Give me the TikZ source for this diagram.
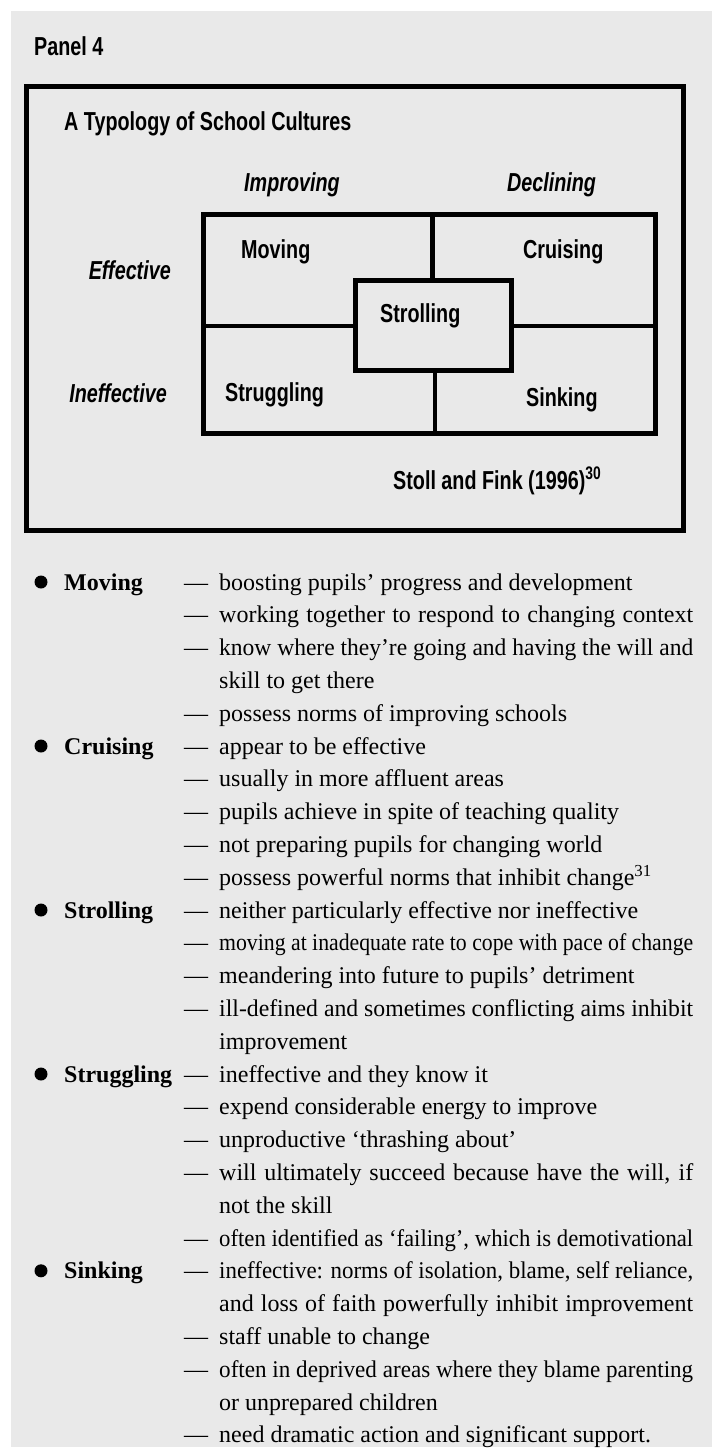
\documentclass[tikz,border=0pt]{standalone}
\usepackage{fontspec}
\usepackage{graphicx}
\setmainfont{Liberation Serif}
\newfontfamily\headfont{Liberation Sans}[FakeStretch=0.76]
\usetikzlibrary{positioning}
\definecolor{PanelGray}{HTML}{E9E9E9}

\tikzset{
  headtext/.style={inner sep=0pt, anchor=base west, font=\headfont\bfseries\fontsize{26}{30}\selectfont},
  axistext/.style={inner sep=0pt, font=\headfont\bfseries\itshape\fontsize{26}{30}\selectfont},
  bodytext/.style={inner sep=0pt, anchor=base west, font=\fontsize{24}{28}\selectfont},
  typetext/.style={inner sep=0pt, anchor=base west, font=\bfseries\fontsize{24}{28}\selectfont},
  boxline/.style={line width=5pt},
  gridline/.style={line width=4.5pt},
}

%% one justified line of the list, squeezed when too long
\newsavebox\fitbox
\newcommand\fitline[1]{\sbox\fitbox{#1}%
  \ifdim\wd\fitbox>474pt\resizebox{474pt}{\height}{\usebox\fitbox}%
  \else\makebox[474pt][s]{#1}\fi}

%% list rows: 32.8pt apart, first baseline at 590
\newcommand\dashrow[2]{%
  \node[bodytext] (dash#1) at (184,{590+32.8*#1}) {—};
  \node[bodytext] (row#1) at (219,{590+32.8*#1}) {#2};}
\newcommand\dashfit[2]{%
  \node[bodytext] (dash#1) at (184,{590+32.8*#1}) {—};
  \node[bodytext] (row#1) at (219,{590+32.8*#1}) {\fitline{#2}};}
\newcommand\controw[2]{%
  \node[bodytext] (row#1) at (219,{590+32.8*#1}) {#2};}
\newcommand\contfit[2]{%
  \node[bodytext] (row#1) at (219,{590+32.8*#1}) {\fitline{#2}};}
\newcommand\typeitem[2]{%
  \fill (41,{582+32.8*#1}) circle (6.5pt);
  \node[typetext] (type#1) at (64,{590+32.8*#1}) {#2};}

\begin{document}
\begin{tikzpicture}[x=1pt, y=-1pt]
  \useasboundingbox (0,0) rectangle (712,1456);
  \fill[white] (0,0) rectangle (712,1456);
  \fill[PanelGray] (11,11) rectangle (712,1447);

  %% Heading
  \node[headtext] (panel) at (34,55) {Panel 4};

  %% Typology box
  \draw[boxline] (26.5,86.5) rectangle (683.5,530.5);
  \node[headtext] (title) at (64,130) {A Typology of School Cultures};
  \node[axistext, anchor=base] (improving) at (292,191) {Improving};
  \node[axistext, anchor=base] (declining) at (551.5,191) {Declining};
  \node[axistext, anchor=base east] (effective) at (171,279) {Effective};
  \node[axistext, anchor=base east] (ineffective) at (167,402) {Ineffective};

  %% Grid of cultures
  \draw[gridline] (203.5,214.5) rectangle (655.5,433.5);
  \draw[gridline] (432.5,214.5) -- (432.5,280.5);
  \draw[gridline] (435,370.5) -- (435,433.5);
  \draw[gridline] (203.5,326) -- (355.5,326);
  \draw[gridline] (511.5,326) -- (655.5,326);
  \draw[gridline, fill=PanelGray] (355.5,280.5) rectangle (511.5,370.5);
  \node[headtext] (moving) at (241,258) {Moving};
  \node[headtext] (cruising) at (523,258) {Cruising};
  \node[headtext] (strolling) at (380,322) {Strolling};
  \node[headtext] (struggling) at (225,401) {Struggling};
  \node[headtext] (sinking) at (526,406) {Sinking};
  \node[headtext] (source) at (393,489) {Stoll and Fink (1996)\textsuperscript{30}};

  %% Moving
  \typeitem{0}{Moving}
  \dashrow{0}{boosting pupils’ progress and development}
  \dashfit{1}{working together to respond to changing context}
  \dashfit{2}{know where they’re going and having the will and}
  \controw{3}{skill to get there}
  \dashrow{4}{possess norms of improving schools}
  %% Cruising
  \typeitem{5}{Cruising}
  \dashrow{5}{appear to be effective}
  \dashrow{6}{usually in more affluent areas}
  \dashrow{7}{pupils achieve in spite of teaching quality}
  \dashrow{8}{not preparing pupils for changing world}
  \dashrow{9}{possess powerful norms that inhibit change\textsuperscript{31}}
  %% Strolling
  \typeitem{10}{Strolling}
  \dashrow{10}{neither particularly effective nor ineffective}
  \dashfit{11}{moving at inadequate rate to cope with pace of change}
  \dashrow{12}{meandering into future to pupils’ detriment}
  \dashfit{13}{ill-defined and sometimes conflicting aims inhibit}
  \controw{14}{improvement}
  %% Struggling
  \typeitem{15}{Struggling}
  \dashrow{15}{ineffective and they know it}
  \dashrow{16}{expend considerable energy to improve}
  \dashrow{17}{unproductive ‘thrashing about’}
  \dashfit{18}{will ultimately succeed because have the will, if}
  \controw{19}{not the skill}
  \dashfit{20}{often identified as ‘failing’, which is demotivational}
  %% Sinking
  \typeitem{21}{Sinking}
  \dashfit{21}{ineffective: norms of isolation, blame, self reliance,}
  \contfit{22}{and loss of faith powerfully inhibit improvement}
  \dashrow{23}{staff unable to change}
  \dashfit{24}{often in deprived areas where they blame parenting}
  \controw{25}{or unprepared children}
  \dashrow{26}{need dramatic action and significant support.}
\end{tikzpicture}
\end{document}
